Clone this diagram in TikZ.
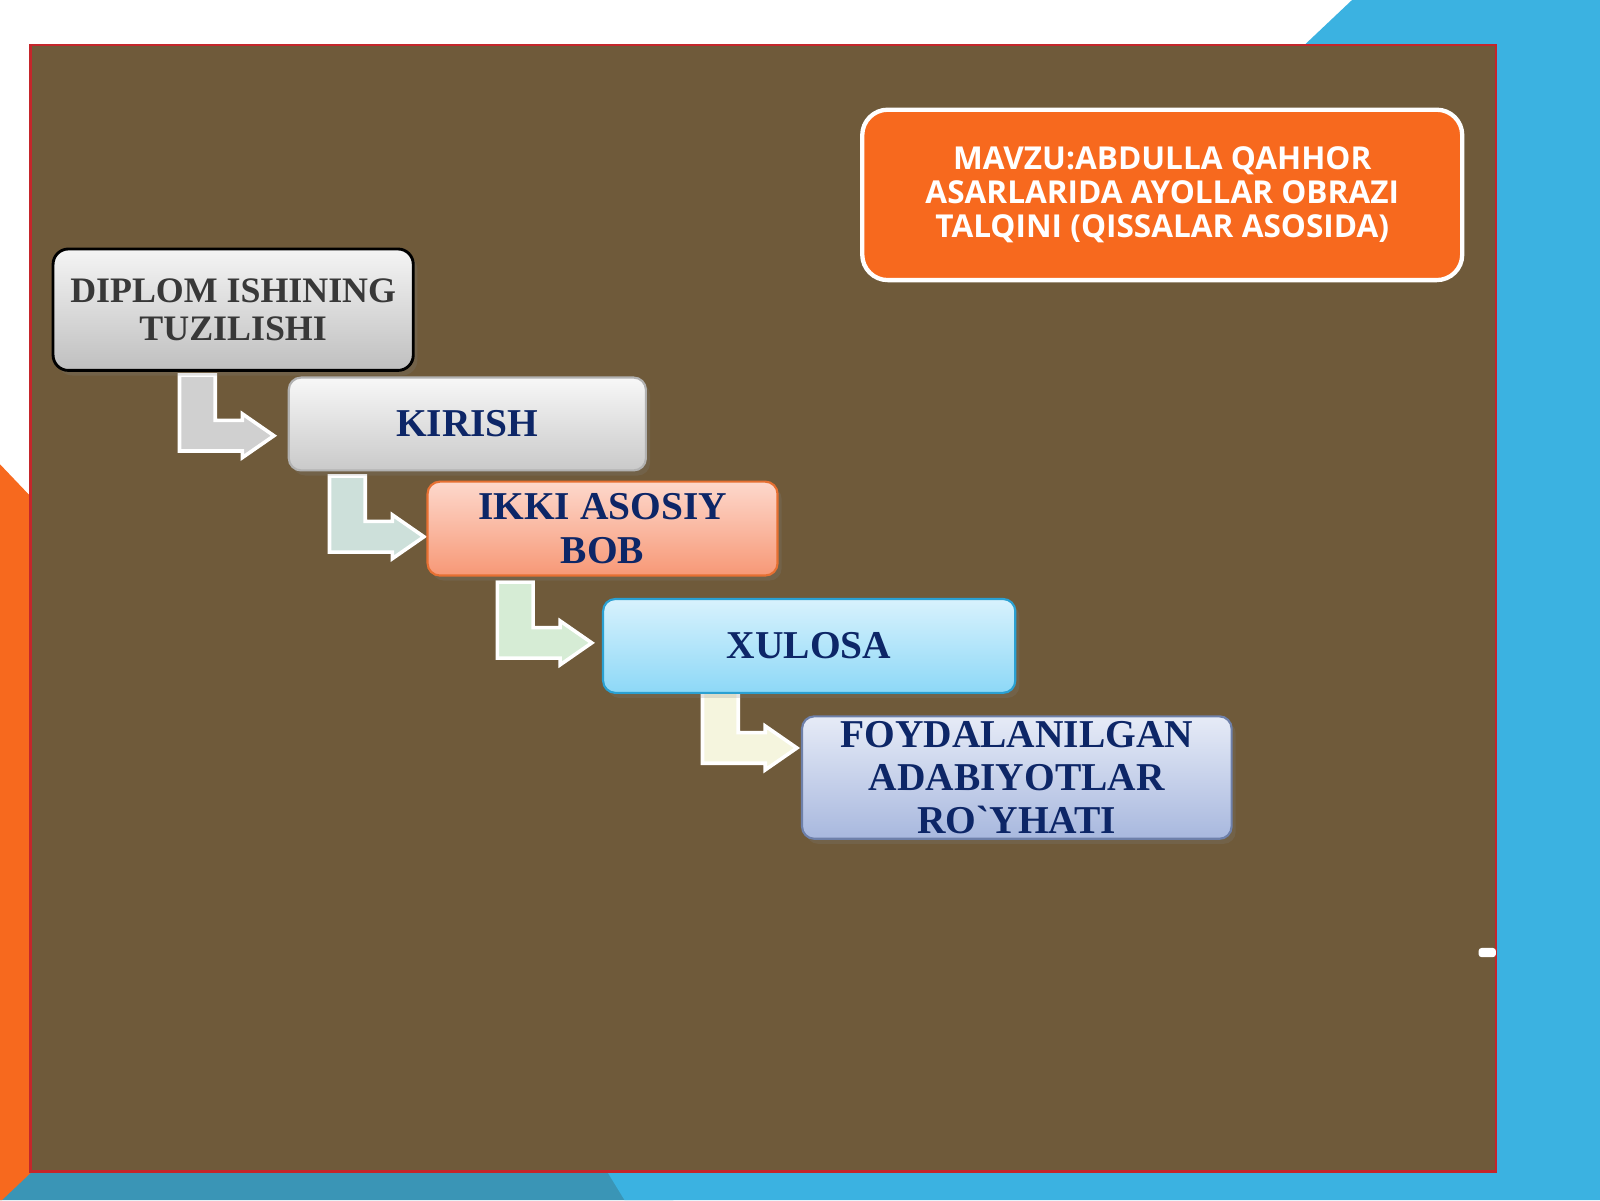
\documentclass[tikz,border=0pt]{standalone}
\usepackage{fontspec}
\setmainfont{Liberation Serif}[Ligatures=TeXOff]
\newfontfamily\titlefont{Open Sans}
\usepackage{tikz}
\usetikzlibrary{positioning,calc,shadows}

\definecolor{slidebrown}{HTML}{6F5A3A}
\definecolor{framered}{HTML}{C4262B}
\definecolor{sideorange}{HTML}{F7691E}
\definecolor{sideblue}{HTML}{3BB2E1}
\definecolor{deepblue}{HTML}{3A95B6}
\definecolor{navytext}{HTML}{0D2667}

\pgfdeclarelayer{backdrop}
\pgfsetlayers{backdrop,main}

\tikzset{
    stepbox/.style={rounded corners=1.2mm, align=center, inner sep=0pt,
        font=\fontsize{11}{12.2}\selectfont\bfseries, text=navytext, line width=0.6pt,
        drop shadow={opacity=0.22, shadow xshift=0.4mm, shadow yshift=-0.5mm}},
    bentline/.style={draw=white, line width=1pt, line join=miter},
}

% bent arrow: fill colour, tip
\newcommand{\bentarrow}[2]{%
    \path[bentline, fill=#1] (#2) -- ++(-31,-21.5) -- ++(0,6.5) -- ++(-26.5,0) -- ++(0,-44.5)
        -- ++(-35,0) -- ++(0,74.5) -- ++(61.5,0) -- ++(0,6.5) -- cycle;}

\begin{document}
\begin{tikzpicture}[x=0.1mm, y=-0.1mm]
    \useasboundingbox (0,0) rectangle (1568,1176);

    \begin{pgfonlayer}{backdrop}
    % slide background
    \path[fill=white] (0,0) rectangle (1568,1176);
    \path[fill=deepblue] (30,1140) -- (660,1140) -- (660,1176) -- (0,1176) -- cycle;
    \path[fill=sideblue] (1325,0) -- (1568,0) -- (1568,1176) -- (612,1176) -- (590,1140) -- (1270,52) -- cycle;
    \path[fill=sideorange] (0,455) -- (40,497) -- (40,1140) -- (2,1176) -- (0,1176) -- cycle;
    \path[fill=slidebrown, draw=framered, line width=0.7pt] (30,44) rectangle (1466,1148);
    \path[fill=white, rounded corners=0.3mm] (1449,929) rectangle (1466,938);
    \end{pgfonlayer}

    % topic
    \node[rounded corners=2.5mm, fill=sideorange, draw=white, line width=1.2pt,
        minimum width=58.8mm, minimum height=16.7mm, align=center, text=white,
        font=\titlefont\fontsize{8.8}{9.4}\selectfont\bfseries] (mavzu) at (1139,191)
        {MAVZU:ABDULLA QAHHOR\\ASARLARIDA AYOLLAR OBRAZI\\TALQINI (QISSALAR ASOSIDA)};

    % structure boxes
    \node[stepbox, rounded corners=1.5mm, draw=black, line width=0.8pt, top color=gray!8, bottom color=gray!50,
        minimum width=35.3mm, minimum height=11.9mm, text=black!78,
        font=\fontsize{10}{10.5}\selectfont\bfseries] (plan) at (228.5,303.5) {DIPLOM ISHINING\\TUZILISHI};
    \node[stepbox, draw=gray!60, top color=gray!6, bottom color=gray!42,
        minimum width=35mm, minimum height=9.1mm] (kirish) at (458,415.5) {KIRISH};
    \node[stepbox, draw={rgb,255:red,230;green,112;blue,50}, top color={rgb,255:red,253;green,216;blue,204},
        bottom color={rgb,255:red,247;green,152;blue,118},
        minimum width=34.3mm, minimum height=9.2mm] (bob) at (590.5,518) {IKKI ASOSIY\\BOB};
    \node[stepbox, draw={rgb,255:red,42;green,160;blue,210}, top color={rgb,255:red,216;green,242;blue,253},
        bottom color={rgb,255:red,141;green,216;blue,247},
        minimum width=40.4mm, minimum height=9.2mm] (xulosa) at (793,633) {XULOSA};
    \node[stepbox, draw={rgb,255:red,110;green,128;blue,170}, top color={rgb,255:red,230;green,235;blue,247},
        bottom color={rgb,255:red,168;green,184;blue,222},
        minimum width=42.1mm, minimum height=12mm,
        font=\fontsize{11}{11.9}\selectfont\bfseries] (adabiyot) at (996.5,762) {FOYDALANILGAN\\ADABIYOTLAR\\RO`YHATI};

    % bent arrows between the steps
    \begin{pgfonlayer}{backdrop}
    \bentarrow{{rgb,255:red,208;green,208;blue,208}}{$(kirish.west)+(-13.5,11.5)$}
    \bentarrow{{rgb,255:red,205;green,224;blue,218}}{$(bob.west)+(-2.5,8)$}
    \bentarrow{{rgb,255:red,214;green,236;blue,213}}{$(xulosa.west)+(-10,-3)$}
    \bentarrow{{rgb,255:red,245;green,245;blue,222}}{$(adabiyot.west)+(-4,-29)$}
    \end{pgfonlayer}
\end{tikzpicture}
\end{document}
